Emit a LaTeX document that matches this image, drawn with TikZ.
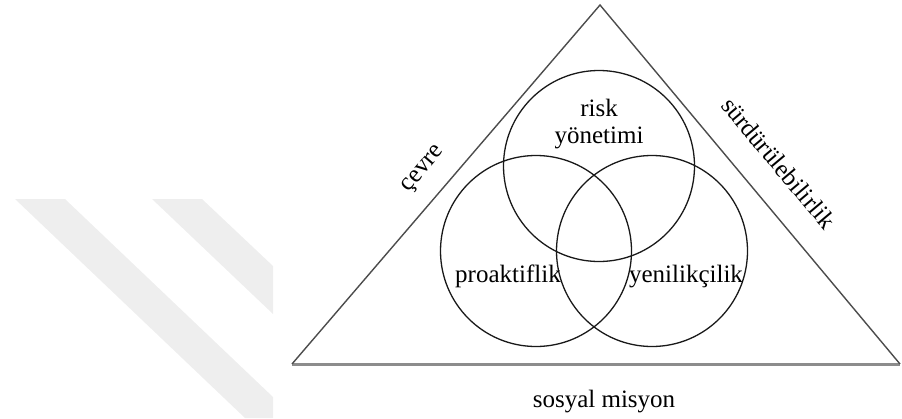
\documentclass[tikz,border=0pt]{standalone}
\usepackage{fontspec}
\setmainfont{Liberation Serif}
\begin{document}
\begin{tikzpicture}[x=1pt,y=-1pt,
  ring/.style={draw=black!90, line width=1.3pt, circle, minimum size=191pt, inner sep=0pt},
  lbl/.style={font=\fontsize{25}{27}\selectfont, inner sep=0pt, text=black},
  side/.style={draw=black!70, line width=1.4pt, line join=miter},
  basel/.style={draw=black!45, line width=3pt},
  wm/.style={fill={rgb,255:red,238;green,238;blue,238}, draw=none}]
\useasboundingbox (0,0) rectangle (902,418);
% watermark stripes
\fill[wm] (15,199) -- (65,199) -- (273,397) -- (273,418) -- (245,418) -- cycle;
\fill[wm] (152,199) -- (202,199) -- (273,266) -- (273,314) -- cycle;
% triangle
\coordinate (A) at (600,5);
\coordinate (L) at (292,364);
\coordinate (R) at (900,364);
\draw[basel] (L) -- (R);
\draw[side] (L) -- (A) -- (R);
% circles
\node[ring] (top) at (599,166) {};
\node[ring] (lc) at (536,251) {};
\node[ring] (rc) at (652,251) {};
% labels
\node[lbl, anchor=base] (risk) at (599,116) {risk};
\node[lbl, anchor=base] (yon) at (599,143) {yönetimi};
\node[lbl, anchor=base] (pro) at (508,282) {proaktiflik};
\node[lbl, anchor=base] (yen) at (686,282) {yenilikçilik};
\node[lbl, anchor=base] (sos) at (604,407) {sosyal misyon};
\node[lbl, rotate=49.4] (cev) at (424,170) {çevre};
\node[lbl, rotate=-50] (sur) at (779,163) {sürdürülebilirlik};
\end{tikzpicture}
\end{document}
